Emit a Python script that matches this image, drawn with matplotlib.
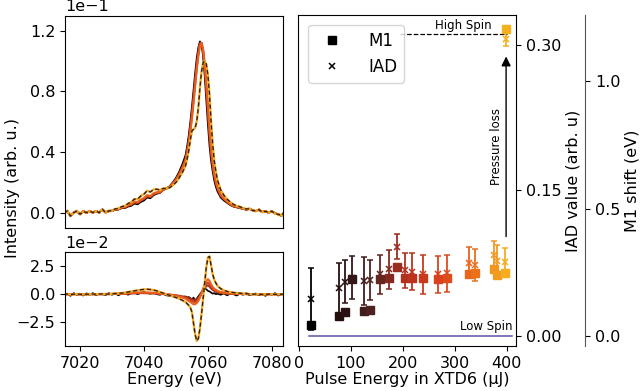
import numpy as np
import matplotlib
matplotlib.use("Agg")
import matplotlib.pyplot as plt
from matplotlib.colors import LinearSegmentedColormap
from matplotlib.lines import Line2D

# energy sampling of the spectra (eV)
ENERGY = np.concatenate([np.arange(7015, 7053), np.arange(7053, 7063.5, 0.5), np.arange(7064, 7086)])

# low-pulse-energy spectrum, units of 1e-1
SPEC_LOW = [
    0.00, 0.01, -0.02, 0.00, 0.01, -0.01, 0.01, 0.00, 0.01, 0.00, 0.01, 0.00, 0.02, 0.00, 0.01, 0.01,
    0.02, 0.02, 0.03, 0.03, 0.04, 0.045, 0.06, 0.055, 0.07, 0.08, 0.10, 0.095, 0.115, 0.125, 0.13, 0.15,
    0.16, 0.175, 0.20, 0.23, 0.27, 0.32,
    0.38, 0.44, 0.51, 0.60, 0.70, 0.81, 0.92, 1.02, 1.09, 1.13, 1.11, 1.03, 0.90, 0.74, 0.58, 0.44,
    0.34, 0.27, 0.21, 0.17, 0.14,
    0.10, 0.08, 0.065, 0.05, 0.04, 0.035, 0.03, 0.025, 0.02, 0.025, 0.015, 0.01, 0.02, 0.005, 0.01,
    0.00, 0.01, -0.005, -0.01, -0.02, 0.005, 0.00,
]

# difference spectra, units of 1e-2
DIFF_LOW = [
    -0.10, 0.05, -0.15, 0.10, -0.05, 0.00, -0.12, 0.08, -0.05, 0.10, -0.10, 0.05, 0.00, -0.08, 0.10, -0.05,
    0.08, -0.10, 0.05, 0.12, -0.05, 0.10, 0.15, 0.00, 0.12, 0.20, 0.10, 0.05, 0.15, 0.00, -0.05, 0.05,
    -0.10, -0.15, -0.05, -0.20, -0.15, -0.25,
    -0.20, -0.30, -0.25, -0.35, -0.50, -0.30, -0.60, -0.40, -0.20, 0.00, 0.20, 0.35, 0.50, 0.45, 0.30,
    0.25, 0.15, 0.05, 0.10, 0.00, 0.05,
    -0.05, 0.08, -0.10, 0.05, 0.00, -0.12, 0.05, -0.05, 0.10, -0.08, 0.00, 0.06, -0.10, 0.02, -0.15,
    0.05, -0.05, 0.10, -0.12, 0.00, 0.05, -0.05,
]
DIFF_DARK = [
    0.00, 0.02, -0.01, 0.00, 0.01, 0.02, 0.00, -0.02, 0.01, 0.00, 0.02, 0.00, 0.01, 0.02, 0.00, 0.02,
    0.02, 0.03, 0.04, 0.05, 0.06, 0.07, 0.08, 0.09, 0.10, 0.10, 0.09, 0.08, 0.07, 0.05, 0.03, 0.01,
    -0.01, -0.04, -0.07, -0.10, -0.14, -0.20,
    -0.25, -0.30, -0.35, -0.40, -0.46, -0.50, -0.50, -0.45, -0.32, -0.12, 0.10, 0.32, 0.55, 0.75, 0.80,
    0.70, 0.52, 0.40, 0.30, 0.22, 0.18,
    0.12, 0.09, 0.06, 0.05, 0.04, 0.03, 0.02, 0.02, 0.01, 0.00, 0.01, 0.00, 0.00, -0.01, 0.00,
    0.00, 0.01, 0.00, 0.00, 0.00, 0.00, 0.00,
]
DIFF_RED = [
    0.01, -0.02, 0.00, 0.02, 0.00, -0.01, 0.01, 0.00, 0.02, 0.00, 0.01, 0.02, 0.00, 0.02, 0.03, 0.02,
    0.03, 0.04, 0.05, 0.06, 0.08, 0.10, 0.11, 0.12, 0.13, 0.13, 0.12, 0.11, 0.10, 0.08, 0.05, 0.02,
    0.00, -0.04, -0.08, -0.12, -0.18, -0.25,
    -0.32, -0.40, -0.48, -0.55, -0.62, -0.68, -0.70, -0.62, -0.45, -0.20, 0.10, 0.40, 0.70, 0.95, 1.05,
    0.92, 0.70, 0.52, 0.40, 0.30, 0.24,
    0.16, 0.12, 0.08, 0.06, 0.05, 0.04, 0.03, 0.02, 0.02, 0.01, 0.00, 0.01, 0.00, 0.00, -0.01,
    0.00, 0.01, 0.00, 0.00, 0.00, 0.01, 0.00,
]
DIFF_ORANGE = [
    0.00, 0.03, -0.02, 0.01, 0.00, 0.02, -0.01, 0.00, 0.02, 0.01, 0.00, 0.02, 0.01, 0.03, 0.02, 0.03,
    0.04, 0.05, 0.06, 0.08, 0.10, 0.12, 0.14, 0.15, 0.16, 0.17, 0.16, 0.15, 0.13, 0.10, 0.07, 0.04,
    0.00, -0.05, -0.10, -0.15, -0.20, -0.30,
    -0.40, -0.50, -0.60, -0.70, -0.80, -0.90, -0.90, -0.80, -0.60, -0.30, 0.10, 0.50, 0.90, 1.20, 1.35,
    1.20, 0.90, 0.65, 0.50, 0.40, 0.30,
    0.20, 0.15, 0.10, 0.08, 0.06, 0.05, 0.04, 0.03, 0.02, 0.02, 0.01, 0.00, 0.01, 0.00, -0.01,
    0.00, 0.01, 0.00, 0.00, 0.01, 0.00, 0.00,
]
DIFF_HIGH = [
    0.00, 0.02, -0.02, 0.00, 0.03, 0.00, -0.02, 0.01, 0.00, 0.02, 0.00, 0.01, 0.03, 0.00, 0.02, 0.03,
    0.05, 0.08, 0.10, 0.15, 0.20, 0.25, 0.30, 0.35, 0.40, 0.43, 0.45, 0.42, 0.38, 0.30, 0.20, 0.10,
    0.00, -0.10, -0.20, -0.30, -0.40, -0.55,
    -0.70, -0.85, -1.00, -1.20, -1.60, -2.60, -3.60, -4.20, -4.00, -3.10, -1.80, -0.40, 1.00, 2.40, 3.30,
    3.40, 2.60, 1.80, 1.30, 1.00, 0.75,
    0.50, 0.35, 0.25, 0.20, 0.15, 0.10, 0.10, 0.05, 0.05, 0.02, 0.00, 0.02, 0.00, -0.02, 0.00,
    0.01, 0.00, -0.02, 0.00, 0.01, 0.00, 0.00,
]

# right panel
PULSE_ENERGY = [22.5, 77, 88, 103, 124.6, 137.5, 156, 174, 189.5, 205, 218, 239.5, 267, 285, 327.5, 340, 375.7, 381, 396, 399]
M1_SHIFT = [0.043, 0.078, 0.094, 0.222, 0.099, 0.102, 0.224, 0.227, 0.272, 0.226, 0.227, 0.226, 0.224, 0.226,
            0.242, 0.246, 0.262, 0.240, 0.246, 1.203]
IAD = [0.0385, 0.049, 0.056, 0.060, 0.0567, 0.0577, 0.0636, 0.0687, 0.092, 0.068, 0.0663, 0.0636, 0.0636, 0.0646,
       0.0756, 0.0732, 0.0835, 0.0776, 0.0766, 0.306]
IAD_ERR = [0.032, 0.026, 0.022, 0.022, 0.025, 0.021, 0.020, 0.020, 0.013, 0.018, 0.019, 0.020, 0.019, 0.019,
           0.016, 0.016, 0.014, 0.016, 0.014, 0.007]
HIGH_SPIN_IAD = 0.311
LOW_SPIN_IAD = 0.0

FS = 11.5
plt.rcParams["font.size"] = FS
heat = LinearSegmentedColormap.from_list(
    "heat", [(0.0, "#000000"), (0.3, "#4a2020"), (0.5, "#b8321f"), (0.65, "#d9421c"),
             (0.8, "#e8601c"), (0.95, "#f29a20"), (1.0, "#f5b020")])

fig = plt.figure(figsize=(6.4, 3.91), dpi=100)
ax_top = fig.add_axes([0.1016, 0.416, 0.3411, 0.544])
ax_bot = fig.add_axes([0.1016, 0.115, 0.3411, 0.240])
ax_r = fig.add_axes([0.466, 0.115, 0.341, 0.847])

low = np.array(SPEC_LOW) * 0.1
diffs = [(DIFF_DARK, heat(0.45)), (DIFF_RED, heat(0.62)), (DIFF_ORANGE, heat(0.8))]
ax_top.plot(ENERGY, low, color="black", lw=1.2)
ax_bot.plot(ENERGY, np.array(DIFF_LOW) * 0.01, color="black", lw=1.2)
for diff, col in diffs:
    ax_top.plot(ENERGY, low + np.array(diff) * 0.01, color=col, lw=1.5)
    ax_bot.plot(ENERGY, np.array(diff) * 0.01, color=col, lw=1.5)
high = low + np.array(DIFF_HIGH) * 0.01
ax_top.plot(ENERGY, high, color="#f5a623", lw=1.6)
ax_top.plot(ENERGY, high, color="black", lw=1.0, ls=(0, (3, 2)), alpha=0.8)
ax_bot.plot(ENERGY, np.array(DIFF_HIGH) * 0.01, color="#f5a623", lw=1.6)
ax_bot.plot(ENERGY, np.array(DIFF_HIGH) * 0.01, color="black", lw=1.0, ls=(0, (3, 2)), alpha=0.8)

for ax in (ax_top, ax_bot):
    ax.set_xlim(7015.3, 7083.6)
    ax.set_xticks([7020, 7040, 7060, 7080])
    ax.ticklabel_format(axis="y", style="sci", scilimits=(0, 0))
    ax.yaxis.get_offset_text().set_fontsize(FS)
ax_top.tick_params(axis="x", bottom=False, labelbottom=False)
ax_top.set_ylim(-0.0103, 0.130)
ax_top.set_yticks([0, 0.04, 0.08, 0.12])
ax_bot.set_ylim(-0.0466, 0.0378)
ax_bot.set_yticks([-0.025, 0, 0.025])
ax_bot.set_xlabel("Energy (eV)", labelpad=1)
fig.text(0.02, 0.52, "Intensity (arb. u.)", rotation=90, ha="center", va="center", fontsize=FS)

# right panel
ax_m = ax_r.twinx()
norm_e = [(e - min(PULSE_ENERGY)) / (max(PULSE_ENERGY) - min(PULSE_ENERGY)) for e in PULSE_ENERGY]
for e, v, err, t in zip(PULSE_ENERGY, IAD, IAD_ERR, norm_e):
    ax_r.errorbar(e, v, yerr=err, fmt="x", color=heat(t), ms=5, mew=1.1, elinewidth=1.3, capsize=2.5)
for e, v, t in zip(PULSE_ENERGY, M1_SHIFT, norm_e):
    ax_m.plot(e, v, "s", color=heat(t), ms=5.5)

ax_r.plot([195, 400], [HIGH_SPIN_IAD, HIGH_SPIN_IAD], color="black", lw=0.9, ls="--")
ax_r.plot([20, 410], [LOW_SPIN_IAD, LOW_SPIN_IAD], color="#5a55a8", lw=1.1)
ax_r.text(371, 0.3196, "High Spin", ha="right", va="center", fontsize=8.5)
ax_r.text(411, 0.0095, "Low Spin", ha="right", va="center", fontsize=8.5)
ax_r.annotate("", xy=(399, 0.291), xytext=(399, 0.0997),
              arrowprops=dict(arrowstyle="-|>", color="black", lw=1.0, mutation_scale=14))
ax_r.text(381, 0.195, "Pressure loss", rotation=90, ha="center", va="center", fontsize=8.5)

ax_r.set_xlim(-1.3, 419)
ax_r.set_xticks([0, 100, 200, 300, 400])
ax_r.set_ylim(-0.0103, 0.331)
ax_r.set_yticks([0, 0.15, 0.30])
ax_r.yaxis.tick_right()
ax_r.yaxis.set_label_position("right")
ax_r.set_ylabel("IAD value (arb. u)", labelpad=3)
ax_r.set_xlabel("Pulse Energy in XTD6 (μJ)", labelpad=1)

ax_m.set_ylim(-0.039, 1.259)
ax_m.set_yticks([0, 0.5, 1.0])
ax_m.spines["right"].set_position(("axes", 1.315))
ax_m.spines["right"].set_color("#555555")
for side in ("left", "top", "bottom"):
    ax_m.spines[side].set_visible(False)
ax_m.set_ylabel("M1 shift (eV)", labelpad=3)

handles = [Line2D([], [], ls="none", marker="s", color="black", ms=5.5),
           Line2D([], [], ls="none", marker="x", color="black", ms=5, mew=1.1)]
ax_m.legend(handles, ["M1", "IAD"], loc="upper left", fontsize=12, handletextpad=1.2, borderaxespad=0.6)

fig.savefig("out.png", dpi=100)
